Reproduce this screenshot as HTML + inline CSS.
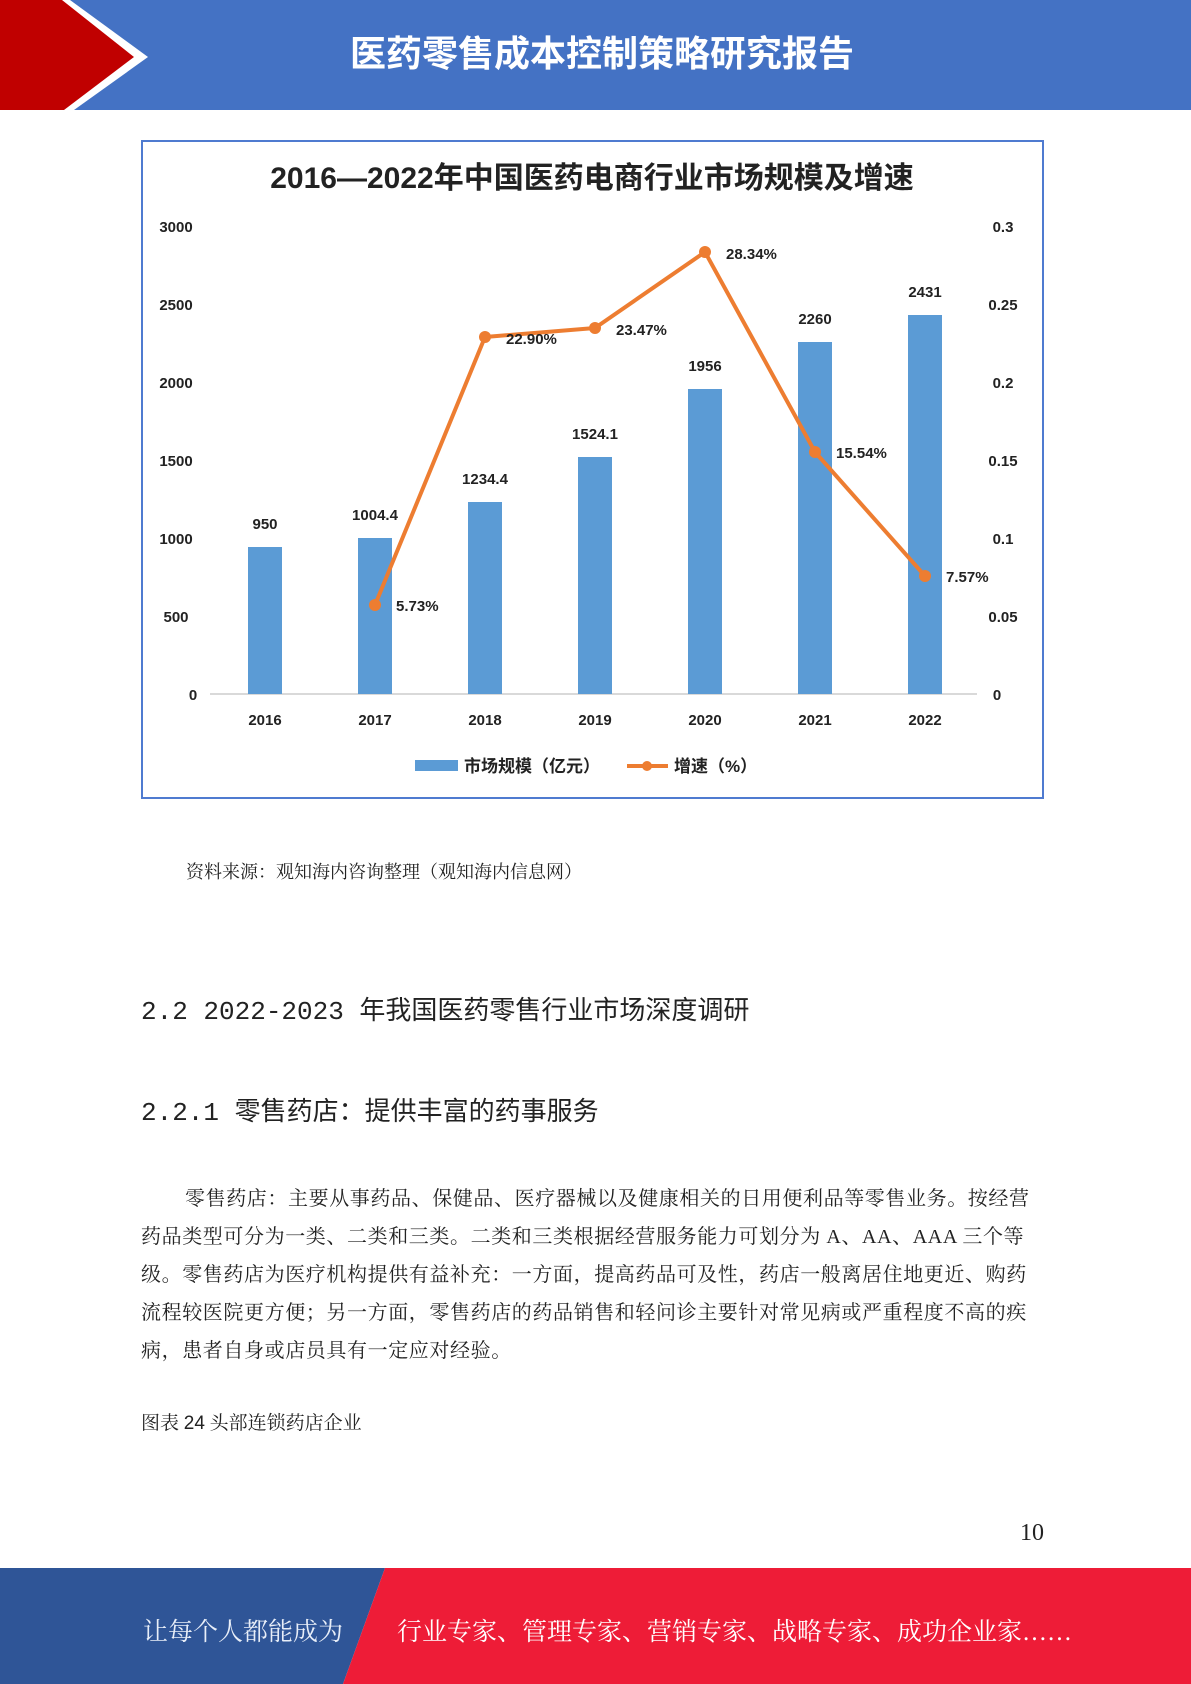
<!DOCTYPE html>
<html><head><meta charset="utf-8"><style>
body{margin:0;width:1191px;height:1684px;position:relative;background:#fff;overflow:hidden;font-family:"Liberation Serif","Noto Serif CJK SC",serif;}
.t{position:absolute;white-space:nowrap;color:#222;}
</style></head><body>
<svg width="1191" height="1684" style="position:absolute;left:0;top:0" font-family="Liberation Sans, Noto Sans CJK SC, sans-serif">
<rect x="0" y="0" width="1191" height="110" fill="#4472c4"/>
<polygon points="0,0 70,0 148,57 74,110 0,110" fill="#fff"/>
<polygon points="0,0 62,0 134,57 64,110 0,110" fill="#c00000"/>
<text x="602" y="66" text-anchor="middle" font-size="36" font-weight="bold" fill="#fff">医药零售成本控制策略研究报告</text>
<rect x="142" y="141" width="901" height="657" fill="#fff" stroke="#4f7bd0" stroke-width="2"/>
<text x="592" y="188" text-anchor="middle" font-size="30" font-weight="bold" fill="#222">2016—2022年中国医药电商行业市场规模及增速</text>
<g font-size="15" font-weight="bold" fill="#222">
<text x="176" y="232" text-anchor="middle">3000</text><text x="176" y="310" text-anchor="middle">2500</text>
<text x="176" y="388" text-anchor="middle">2000</text><text x="176" y="466" text-anchor="middle">1500</text>
<text x="176" y="544" text-anchor="middle">1000</text><text x="176" y="622" text-anchor="middle">500</text>
<text x="193" y="700" text-anchor="middle">0</text>
<text x="1003" y="232" text-anchor="middle">0.3</text><text x="1003" y="310" text-anchor="middle">0.25</text>
<text x="1003" y="388" text-anchor="middle">0.2</text><text x="1003" y="466" text-anchor="middle">0.15</text>
<text x="1003" y="544" text-anchor="middle">0.1</text><text x="1003" y="622" text-anchor="middle">0.05</text>
<text x="997" y="700" text-anchor="middle">0</text>
</g>
<line x1="210" y1="694" x2="977" y2="694" stroke="#d9d9d9" stroke-width="2"/>
<g fill="#5b9bd5">
<rect x="248" y="547" width="34" height="147"/>
<rect x="358" y="538" width="34" height="156"/>
<rect x="468" y="502" width="34" height="192"/>
<rect x="578" y="457" width="34" height="237"/>
<rect x="688" y="389" width="34" height="305"/>
<rect x="798" y="342" width="34" height="352"/>
<rect x="908" y="315" width="34" height="379"/>
</g>
<g font-size="15" font-weight="bold" fill="#222" text-anchor="middle">
<text x="265" y="529">950</text><text x="375" y="520">1004.4</text><text x="485" y="484">1234.4</text>
<text x="595" y="439">1524.1</text><text x="705" y="371">1956</text><text x="815" y="324">2260</text><text x="925" y="297">2431</text>
<text x="265" y="725">2016</text><text x="375" y="725">2017</text><text x="485" y="725">2018</text><text x="595" y="725">2019</text><text x="705" y="725">2020</text><text x="815" y="725">2021</text><text x="925" y="725">2022</text>
</g>
<polyline points="375,605 485,337 595,328 705,252 815,452 925,576" fill="none" stroke="#ed7d31" stroke-width="4" stroke-linejoin="round"/>
<g fill="#ed7d31"><circle cx="375" cy="605" r="6"/><circle cx="485" cy="337" r="6"/><circle cx="595" cy="328" r="6"/><circle cx="705" cy="252" r="6"/><circle cx="815" cy="452" r="6"/><circle cx="925" cy="576" r="6"/></g>
<g font-size="15" font-weight="bold" fill="#222">
<text x="396" y="611">5.73%</text><text x="506" y="344">22.90%</text><text x="616" y="335">23.47%</text>
<text x="726" y="259">28.34%</text><text x="836" y="458">15.54%</text><text x="946" y="582">7.57%</text>
</g>
<rect x="415" y="760" width="43" height="11" fill="#5b9bd5"/>
<text x="464" y="772" font-size="17" font-weight="bold" fill="#222">市场规模（亿元）</text>
<line x1="627" y1="766" x2="668" y2="766" stroke="#ed7d31" stroke-width="4"/><circle cx="647" cy="766" r="5" fill="#ed7d31"/>
<text x="674" y="772" font-size="17" font-weight="bold" fill="#222">增速（%）</text>
<polygon points="0,1568 385,1568 343,1684 0,1684" fill="#2f5597"/>
<polygon points="385,1568 1191,1568 1191,1684 343,1684" fill="#ee1c37"/>
</svg>
<div class="t" style="left:186px;top:858px;font-size:18px">资料来源：观知海内咨询整理（观知海内信息网）</div>
<div class="t" style="left:141px;top:990px;font-size:26px;font-family:'Liberation Mono','Noto Sans CJK SC',sans-serif">2.2 2022-2023 年我国医药零售行业市场深度调研</div>
<div class="t" style="left:141px;top:1091px;font-size:26px;font-family:'Liberation Mono','Noto Sans CJK SC',sans-serif">2.2.1 零售药店：提供丰富的药事服务</div>
<div class="t" style="left:141px;top:1180px;width:920px;font-size:20px;letter-spacing:0.6px;line-height:38px;white-space:normal;text-indent:44px">零售药店：主要从事药品、保健品、医疗器械以及健康相关的日用便利品等零售业务。按经营<br>药品类型可分为一类、二类和三类。二类和三类根据经营服务能力可划分为 A、AA、AAA 三个等<br>级。零售药店为医疗机构提供有益补充：一方面，提高药品可及性，药店一般离居住地更近、购药<br>流程较医院更方便；另一方面，零售药店的药品销售和轻问诊主要针对常见病或严重程度不高的疾<br>病，患者自身或店员具有一定应对经验。</div>
<div class="t" style="left:141px;top:1408px;font-size:19px">图表 <span style="font-family:'Liberation Sans'">24</span> 头部连锁药店企业</div>
<div class="t" style="left:1020px;top:1520px;font-size:24px">10</div>
<div class="t" style="left:143px;top:1612px;font-size:25px;color:#e8eef8">让每个人都能成为</div>
<div class="t" style="left:397px;top:1612px;font-size:25px;color:#fff">行业专家、管理专家、营销专家、战略专家、成功企业家……</div>
</body></html>
